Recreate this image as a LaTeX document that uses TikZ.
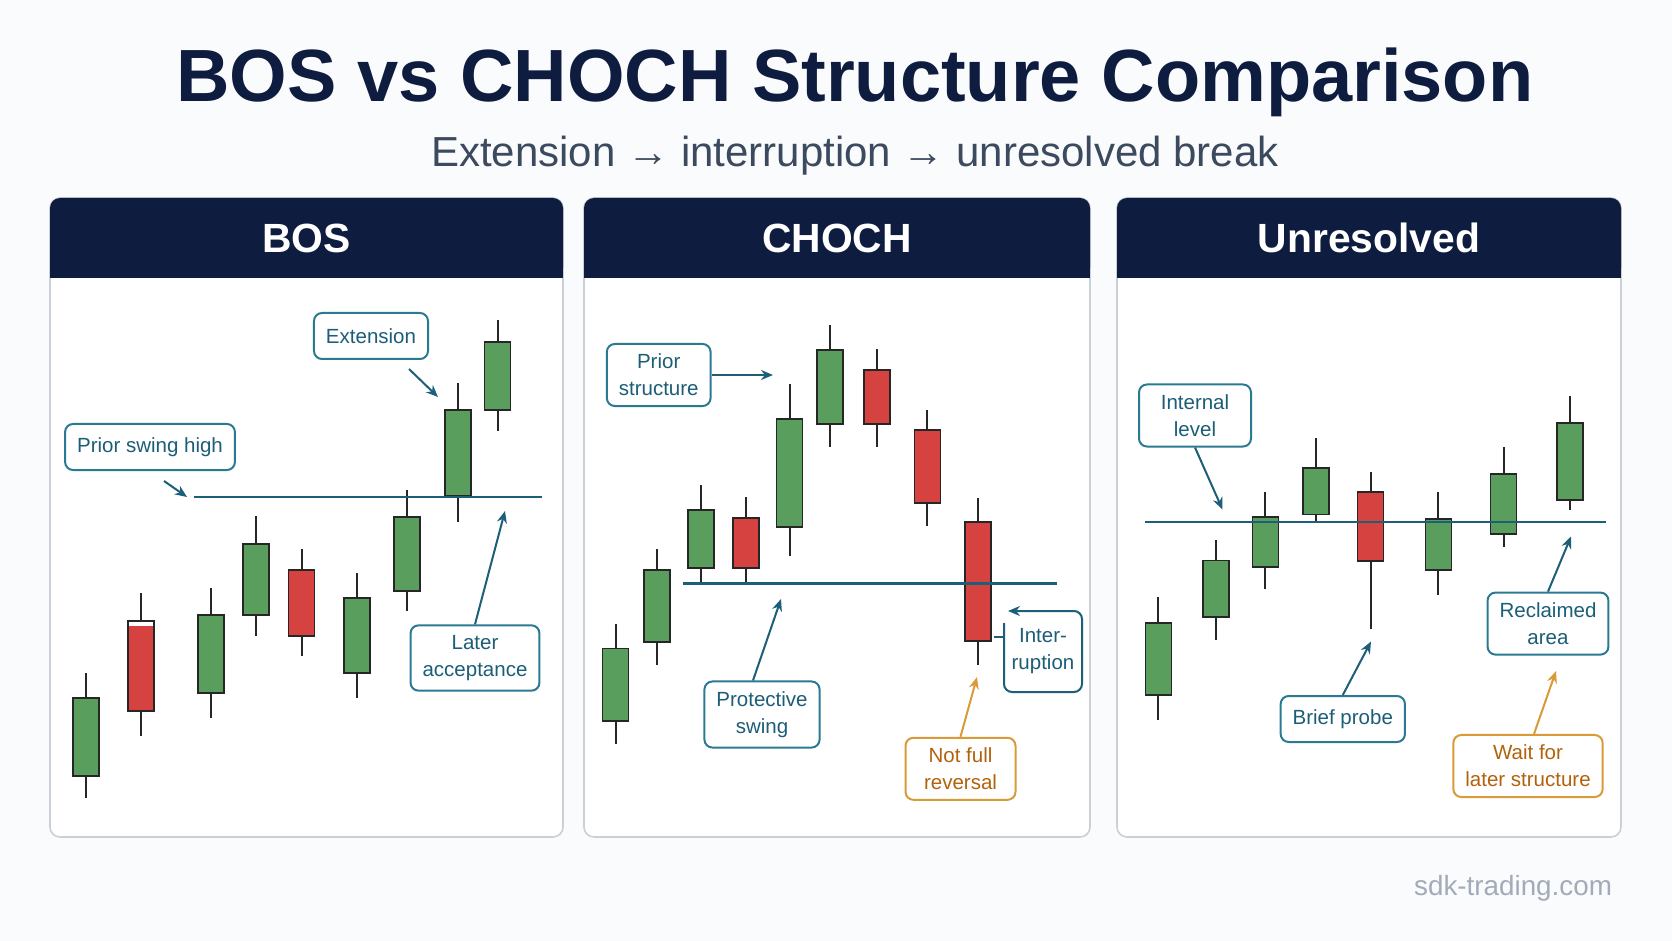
\documentclass[tikz,border=0pt]{standalone}
\usepackage{fontspec}
\setmainfont{Liberation Sans}
\usetikzlibrary{calc, arrows.meta, positioning}
\definecolor{navy}{HTML}{0E1C40}
\definecolor{subgray}{HTML}{3B4A5E}
\definecolor{tealtext}{HTML}{1C5E77}
\definecolor{tealedge}{HTML}{2B7A94}
\definecolor{tealline}{HTML}{1D5F78}
\definecolor{ambertext}{HTML}{B2620C}
\definecolor{amberedge}{HTML}{D99A38}
\definecolor{candgreen}{HTML}{5A9E5E}
\definecolor{candred}{HTML}{D6423F}
\definecolor{paneledge}{HTML}{CBD0D8}
\definecolor{pagebg}{HTML}{FAFBFC}
\definecolor{webgray}{HTML}{A3ABBA}
\tikzset{
	panelbox/.style={fill=white, draw=paneledge, line width=0.8pt, rounded corners=5pt}
}
\tikzset{
	headtext/.style={font=\fontsize{20.4}{24}\selectfont\bfseries, text=white}
}
\tikzset{
	callout/.style={draw=tealedge, line width=1pt, rounded corners=4pt, text=tealtext, fill=white,
			font=\fontsize{10.25}{13.5}\selectfont, align=center,
			inner xsep=6pt, inner ysep=5pt, minimum height=23pt}
}
\tikzset{
	warncallout/.style={callout, draw=amberedge, text=ambertext}
}
\tikzset{
	pointer/.style={draw=tealline, line width=1pt, -{Stealth[length=6pt,width=5pt]}}
}
\tikzset{
	warnpointer/.style={pointer, draw=amberedge}
}
\tikzset{
	level/.style={draw=tealline, line width=1.25pt},
	wick/.style={draw=black!85, line width=1pt},
	body/.style={draw=black!85, line width=0.8pt}
}
\newcommand{\candle}[6]{%
	\draw[wick] (#1,#2) -- (#1,#5);
	\draw[body, fill=#6] (#1-13,#3) rectangle (#1+13,#4);
}

\begin{document}
\begin{tikzpicture}[x=0.5pt, y=-0.5pt]

	\fill[pagebg] (0,0) rectangle (1672,941);

	\node[anchor=base, text=navy, font=\fontsize{37}{40}\selectfont\bfseries] (title) at (855,102) {BOS vs CHOCH Structure Comparison};
	\node[anchor=base, text=subgray, font=\fontsize{21}{24}\selectfont] (subtitle) at (855,167) {Extension → interruption → unresolved break};

	\begin{scope}
		\draw[panelbox] (50,198) rectangle (563,837);
		\fill[navy, rounded corners=5pt] (50,198) rectangle (563,278);
		\fill[navy] (50,250) rectangle (563,278);
		\node[headtext] (bosHead) at (306.5,238) {BOS};

		\candle{86}{673}{698}{776}{798}{candgreen}
		\candle{141}{593}{621}{711}{736}{candred}
		\fill[white] (128.8,622) rectangle (153.2,626);
		\candle{211}{588}{615}{693}{718}{candgreen}
		\candle{256}{516}{544}{615}{636}{candgreen}
		\candle{301.5}{549}{570}{636}{656}{candred}
		\candle{357}{573}{598}{673}{698}{candgreen}
		\candle{407}{490}{517}{591}{611}{candgreen}
		\candle{458}{383}{410}{496}{522}{candgreen}
		\candle{497.5}{320}{342}{410}{431}{candgreen}

		\coordinate (bosL) at (194,497);
		\coordinate (bosR) at (542,497);
		\draw[level] (bosL) -- (bosR);

		\node[callout] (ext) at (371,336) {Extension};
		\node[callout] (psh) at (150,447) {Prior swing high};
		\node[callout] (lacc) at (475,658) {Later\\acceptance};

		\coordinate (extTip) at (438,397);
		\coordinate (pshTip) at (187,497);
		\coordinate (laccTip) at (505,511);
		\draw[pointer] ($(ext.south)+(38,9)$) -- (extTip);
		\draw[pointer] ($(psh.south)+(14,10)$) -- (pshTip);
		\draw[pointer] (lacc.north) -- (laccTip);
	\end{scope}

	\begin{scope}
		\draw[panelbox] (584,198) rectangle (1090,837);
		\fill[navy, rounded corners=5pt] (584,198) rectangle (1090,278);
		\fill[navy] (584,250) rectangle (1090,278);
		\node[headtext] (chochHead) at (837,238) {CHOCH};

		\candle{615.5}{624}{648.5}{721}{744}{candgreen}
		\candle{657}{549}{570}{642}{665}{candgreen}
		\candle{700.7}{485}{510}{568}{582}{candgreen}
		\candle{745.8}{497}{518}{568}{582}{candred}
		\candle{789.6}{384}{419}{527}{556}{candgreen}
		\candle{830}{325}{350}{424}{447}{candgreen}
		\candle{877.2}{349}{370}{424}{447}{candred}
		\candle{927.3}{410}{430}{503}{526}{candred}
		\candle{978}{498}{522}{641}{665}{candred}

		\coordinate (chochL) at (683,583.5);
		\coordinate (chochR) at (1057,583.5);
		\draw[level] (chochL) -- (chochR);

		\node[callout] (pstr) at (658.7,375) {Prior\\structure};
		\node[callout] (pswing) at (762,714.5) {Protective\\swing};
		\node[callout, draw=none, fill=none, inner xsep=2pt, minimum width=38pt, minimum height=39.5pt] (ir) at (1043,651.5) {Inter-\\ruption};
		\node[warncallout, minimum width=55pt] (nfr) at (960.5,768.8) {Not full\\reversal};

		\coordinate (pstrTip) at (773,375);
		\coordinate (pswingTip) at (781,599);
		\coordinate (nfrTip) at (977,677);
		\draw[pointer] (pstr.east) -- (pstrTip);
		\draw[pointer] ($(pswing.north)+(-9,0)$) -- (pswingTip);
		\draw[pointer, rounded corners=4pt] ([yshift=-6pt]ir.north west) -- (ir.south west) -- (ir.south east) -- (ir.north east) -- ([xshift=2pt]ir.north west);
		\draw[draw=tealline, line width=1pt] ([yshift=-13pt]ir.north west) -- ++(-10,0);
		\draw[warnpointer] (nfr.north) -- (nfrTip);
	\end{scope}

	\begin{scope}
		\draw[panelbox] (1117,198) rectangle (1621,837);
		\fill[navy, rounded corners=5pt] (1117,198) rectangle (1621,278);
		\fill[navy] (1117,250) rectangle (1621,278);
		\node[headtext] (unresHead) at (1369,238) {Unresolved};

		\candle{1158.3}{597}{623}{695}{720}{candgreen}
		\candle{1215.7}{540}{560.5}{617}{640}{candgreen}
		\candle{1265.4}{492}{517}{567}{589}{candgreen}
		\candle{1315.7}{438}{468}{514.5}{522}{candgreen}
		\candle{1370.5}{472}{492}{561}{629}{candred}
		\candle{1438.4}{492}{519}{570}{595}{candgreen}
		\candle{1503.6}{447}{474}{534}{547}{candgreen}
		\candle{1570.1}{396}{423}{500}{510}{candgreen}

		\coordinate (unresL) at (1145,522);
		\coordinate (unresR) at (1606,522);
		\draw[level] (unresL) -- (unresR);

		\node[callout, minimum width=56pt] (intl) at (1195,415.5) {Internal\\level};
		\node[callout] (bprobe) at (1342.8,719) {Brief probe};
		\node[callout] (recl) at (1548,623.6) {Reclaimed\\area};
		\node[warncallout] (wait) at (1528,766) {Wait for\\later structure};

		\coordinate (intlTip) at (1222.5,509.5);
		\coordinate (bprobeTip) at (1371,641.5);
		\coordinate (reclTip) at (1571,536.5);
		\coordinate (waitTip) at (1556,671);
		\draw[pointer] (intl.south) -- (intlTip);
		\draw[pointer] (bprobe.north) -- (bprobeTip);
		\draw[pointer] (recl.north) -- (reclTip);
		\draw[warnpointer] ($(wait.north)+(6,0)$) -- (waitTip);
	\end{scope}

	\node[anchor=base east, text=webgray, font=\fontsize{13.9}{16}\selectfont] (site) at (1619,895) {sdk-trading.com};

\end{tikzpicture}
\end{document}
